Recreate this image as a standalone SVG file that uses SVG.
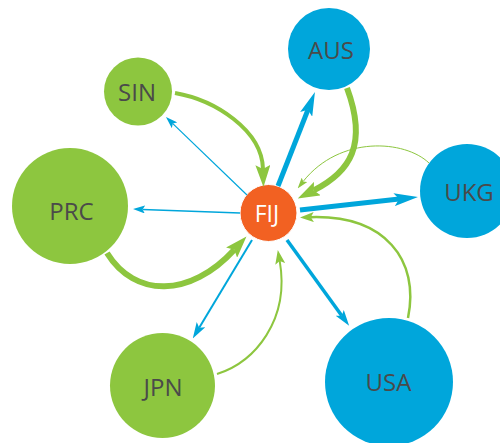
<svg xmlns="http://www.w3.org/2000/svg" width="500" height="443" viewBox="0 0 500 443">
<style>
.g{fill:#8dc63f}
.b{fill:#00a6db}
.o{fill:#f26122;stroke:#ffffff;stroke-width:1}
.lbl{font-family:"Open Sans","Liberation Sans",sans-serif;font-size:24px;fill:#4a4a4a;text-anchor:middle}
.lw{font-family:"Open Sans","Liberation Sans",sans-serif;font-size:23px;fill:#ffffff;text-anchor:middle}
.cg{fill:none;stroke:#8dc63f}
.cb{fill:none;stroke:#00a6db}
</style>
<defs>
<marker id="gL" markerUnits="userSpaceOnUse" markerWidth="22" markerHeight="15" refX="4" refY="7.5" orient="auto"><path d="M0,0 L22,7.5 L0,15 L4,7.5 z" fill="#8dc63f"/></marker>
<marker id="gM" markerUnits="userSpaceOnUse" markerWidth="14" markerHeight="10" refX="3" refY="5" orient="auto"><path d="M0,0 L14,5 L0,10 L3,5 z" fill="#8dc63f"/></marker>
<marker id="gS" markerUnits="userSpaceOnUse" markerWidth="11" markerHeight="7" refX="2" refY="3.5" orient="auto"><path d="M0,0 L11,3.5 L0,7 L2,3.5 z" fill="#8dc63f"/></marker>
<marker id="bL" markerUnits="userSpaceOnUse" markerWidth="24" markerHeight="13" refX="5" refY="6.5" orient="auto"><path d="M0,0 L24,6.5 L0,13 L5,6.5 z" fill="#00a6db"/></marker>
<marker id="bM" markerUnits="userSpaceOnUse" markerWidth="16" markerHeight="10" refX="3.5" refY="5" orient="auto"><path d="M0,0 L16,5 L0,10 L3.5,5 z" fill="#00a6db"/></marker>
<marker id="bS" markerUnits="userSpaceOnUse" markerWidth="12" markerHeight="8" refX="2.5" refY="4" orient="auto"><path d="M0,0 L12,4 L0,8 L2.5,4 z" fill="#00a6db"/></marker>
</defs>
<g id="node-SIN"><circle class="g" cx="138" cy="91.5" r="34"/><text class="lbl" x="137" y="101">SIN</text></g>
<g id="node-AUS"><circle class="b" cx="329" cy="49" r="41"/><text class="lbl" x="331" y="58.5">AUS</text></g>
<g id="node-UKG"><circle class="b" cx="467" cy="191" r="47"/><text class="lbl" x="469" y="200.5">UKG</text></g>
<g id="node-PRC"><circle class="g" cx="70" cy="206" r="58"/><text class="lbl" x="71.5" y="219.5">PRC</text></g>
<g id="node-JPN"><circle class="g" cx="162.5" cy="385.5" r="52.5"/><text class="lbl" x="163" y="396">JPN</text></g>
<g id="node-USA"><circle class="b" cx="389" cy="382" r="64"/><text class="lbl" x="388.5" y="391">USA</text></g>
<g id="node-FIJ"><circle class="o" cx="268.5" cy="213" r="28.5"/><text class="lw" x="267" y="221.5">FIJ</text></g>
<g id="connectors">
<path class="cg" stroke-width="4" d="M175,93 C215,100 262,130 263,169" marker-end="url(#gL)"/>
<path class="cb" stroke-width="1.2" d="M247,195 L172.8,123.6" marker-end="url(#bS)"/>
<path class="cb" stroke-width="5" d="M278,186 L308,109.7" marker-end="url(#bL)"/>
<path class="cg" stroke-width="6" d="M347,88 C368,145 350,172 313.8,190.4" marker-end="url(#gL)"/>
<path class="cg" stroke-width="1" d="M429,163 C405,140 340,135 303.2,181.4" marker-end="url(#gS)"/>
<path class="cb" stroke-width="5" d="M300,210 L399.1,199.1" marker-end="url(#bL)"/>
<path class="cg" stroke-width="2.5" d="M408,318 C420,260 385,215 310.8,217.2" marker-end="url(#gM)"/>
<path class="cb" stroke-width="3.5" d="M287,240 L341.8,315.7" marker-end="url(#bM)"/>
<path class="cg" stroke-width="2" d="M217,374 C255,362 290,320 279.7,260.9" marker-end="url(#gM)"/>
<path class="cb" stroke-width="2" d="M252,240 L199.2,327.7" marker-end="url(#bM)"/>
<path class="cg" stroke-width="6" d="M107,253 C135,298 190,298 234.3,249.7" marker-end="url(#gL)"/>
<path class="cb" stroke-width="1.5" d="M240,213 L142.5,209.4" marker-end="url(#bS)"/>
</g>
</svg>
